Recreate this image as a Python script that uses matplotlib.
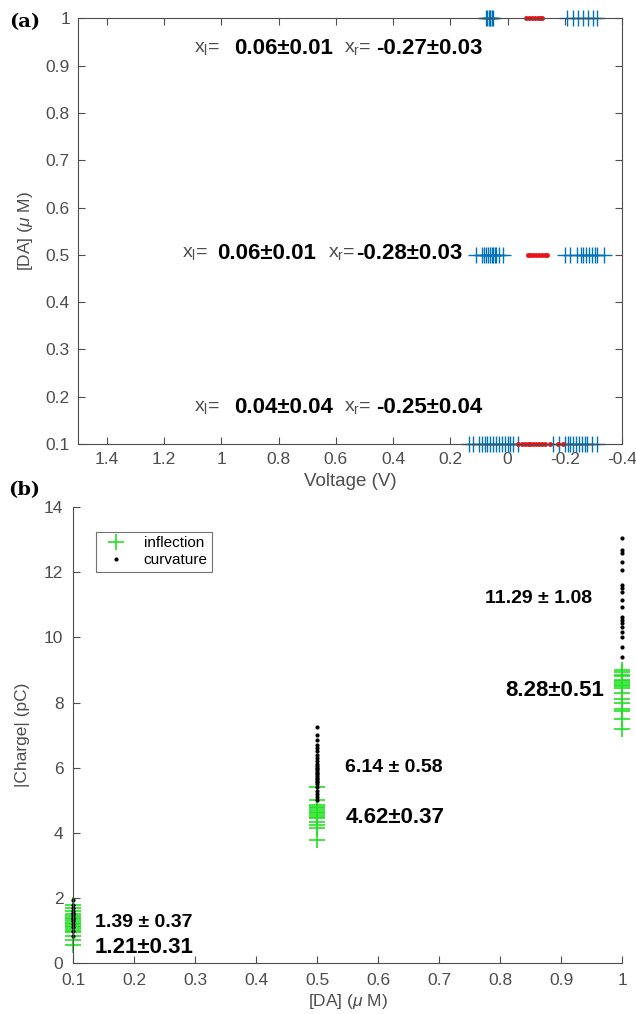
import numpy as np
import matplotlib
matplotlib.use('Agg')
import matplotlib.pyplot as plt
from matplotlib.ticker import FormatStrFormatter

plt.rcParams['font.family'] = ['Liberation Sans', 'DejaVu Sans']
plt.rcParams['mathtext.fontset'] = 'custom'
plt.rcParams['mathtext.rm'] = 'Liberation Sans'
plt.rcParams['mathtext.it'] = 'Liberation Sans:italic'
plt.rcParams['axes.unicode_minus'] = False

# ---- panel (a): peak voltages per concentration ----
da_levels = [1.0, 0.5, 0.1]
left_peaks = {
    1.0: [0.05, 0.055, 0.06, 0.06, 0.065, 0.07, 0.075],
    0.5: [0.111, 0.09, 0.083, 0.075, 0.068, 0.06, 0.055, 0.05, 0.045, 0.04, 0.031, 0.017],
    0.1: [0.136, 0.12, 0.1, 0.09, 0.08, 0.07, 0.06, 0.05, 0.04, 0.03, 0.02, 0.01,
          0.0, -0.01, -0.02, -0.038],
}
mid_points = {
    1.0: [-0.065, -0.075, -0.085, -0.095, -0.105, -0.115, -0.12],
    0.5: [-0.07, -0.08, -0.09, -0.1, -0.11, -0.12, -0.13, -0.139],
    0.1: [-0.038, -0.05, -0.06, -0.07, -0.08, -0.09, -0.1, -0.11, -0.12, -0.132,
          -0.15, -0.177, -0.195],
}
right_peaks = {
    1.0: [-0.209, -0.23, -0.247, -0.264, -0.282, -0.299, -0.313],
    0.5: [-0.2, -0.22, -0.243, -0.255, -0.265, -0.275, -0.285, -0.295, -0.305,
          -0.313, -0.337],
    0.1: [-0.16, -0.18, -0.2, -0.21, -0.22, -0.23, -0.24, -0.25, -0.26, -0.27,
          -0.278, -0.295, -0.313],
}
xl_text = {1.0: '0.06\u00b10.01', 0.5: '0.06\u00b10.01', 0.1: '0.04\u00b10.04'}
xr_text = {1.0: '-0.27\u00b10.03', 0.5: '-0.28\u00b10.03', 0.1: '-0.25\u00b10.04'}
text_y = {1.0: 0.937, 0.5: 0.503, 0.1: 0.178}
text_x = {1.0: (1.096, 0.957, 0.570, 0.459), 0.5: (1.137, 1.016, 0.626, 0.529),
          0.1: (1.096, 0.957, 0.570, 0.459)}
volt_ticks = [1.4, 1.2, 1.0, 0.8, 0.6, 0.4, 0.2, 0.0, -0.2, -0.4]
da_ticks = [0.1, 0.2, 0.3, 0.4, 0.5, 0.6, 0.7, 0.8, 0.9, 1.0]

# ---- panel (b): charge vs concentration ----
conc = [0.1, 0.5, 1.0]
inflection = {
    0.1: [0.55, 0.7, 0.85, 0.95, 1.0, 1.05, 1.1, 1.15, 1.2, 1.25, 1.3, 1.35, 1.4,
          1.45, 1.5, 1.6, 1.7, 1.8],
    0.5: [3.78, 4.15, 4.25, 4.35, 4.45, 4.5, 4.55, 4.6, 4.65, 4.7, 4.75, 4.8,
          4.85, 5.0, 5.4],
    1.0: [9.0, 8.95, 8.85, 8.8, 8.7, 8.65, 8.6, 8.55, 8.5, 8.45, 8.3, 8.1, 8.0,
          7.8, 7.75, 7.5, 7.2],
}
curvature = {
    0.1: [0.85, 1.0, 1.1, 1.2, 1.3, 1.35, 1.4, 1.45, 1.5, 1.55, 1.6, 1.7, 1.8, 1.95],
    0.5: [5.0, 5.1, 5.2, 5.3, 5.4, 5.5, 5.55, 5.6, 5.65, 5.7, 5.75, 5.8, 5.85, 5.9,
          5.95, 6.0, 6.05, 6.1, 6.2, 6.3, 6.4, 6.5, 6.6, 6.7, 6.85, 7.0, 7.25],
    1.0: [9.39, 9.7, 10.01, 10.16, 10.32, 10.44, 10.53, 10.62, 10.93, 11.15, 11.39,
          11.51, 11.61, 12.07, 12.31, 12.59, 12.68, 13.05],
}
curv_text = {0.1: ('1.39 \u00b1 0.37', 0.136, 1.26), 0.5: ('6.14 \u00b1 0.58', 0.546, 6.02),
             1.0: ('11.29 \u00b1 1.08', 0.775, 11.2)}
infl_text = {0.1: ('1.21\u00b10.31', 0.136, 0.5), 0.5: ('4.62\u00b10.37', 0.546, 4.48),
             1.0: ('8.28\u00b10.51', 0.808, 8.38)}
charge_ticks = [0, 2, 4, 6, 8, 10, 12, 14]

blue = '#0072BD'
red = '#E8141B'
gray = '#4d4d4d'

fig = plt.figure(figsize=(6.36, 10.14), dpi=100)
ax1 = fig.add_axes([0.123, 0.562, 0.855, 0.420])
ax2 = fig.add_axes([0.115, 0.050, 0.863, 0.450])

for lvl in da_levels:
    ax1.plot(left_peaks[lvl], [lvl] * len(left_peaks[lvl]), '+', color=blue,
             ms=11, mew=1.0, clip_on=False)
    ax1.plot(right_peaks[lvl], [lvl] * len(right_peaks[lvl]), '+', color=blue,
             ms=11, mew=1.0, clip_on=False)
    ax1.plot(mid_points[lvl], [lvl] * len(mid_points[lvl]), '.', color=red,
             ms=5, clip_on=False)
    x1, x2, x3, x4 = text_x[lvl]
    y = text_y[lvl]
    ax1.text(x1, y, 'x$_{\\mathrm{l}}$=', color=gray, fontsize=14, va='center')
    ax1.text(x2, y, xl_text[lvl], color='black', fontsize=16, fontweight='bold',
             va='center')
    ax1.text(x3, y, 'x$_{\\mathrm{r}}$=', color=gray, fontsize=14, va='center')
    ax1.text(x4, y, xr_text[lvl], color='black', fontsize=16, fontweight='bold',
             va='center')

ax1.set_xlim(1.5, -0.4)
ax1.set_ylim(0.1, 1.0)
ax1.set_xticks(volt_ticks)
ax1.set_yticks(da_ticks)
ax1.xaxis.set_major_formatter(FormatStrFormatter('%g'))
ax1.yaxis.set_major_formatter(FormatStrFormatter('%g'))
ax1.tick_params(direction='in', top=True, right=True, labelsize=12.5,
                colors=gray, length=5, pad=6)
for s in ax1.spines.values():
    s.set_color(gray)
ax1.set_xlabel('Voltage (V)', fontsize=13.5, color=gray, labelpad=4)
ax1.set_ylabel('[DA] ($\\mu$ M)', fontsize=12.5, color=gray, labelpad=8)

for c in conc:
    ax2.plot([c] * len(inflection[c]), inflection[c], '+', color='#22e022',
             ms=11, mew=1.2, clip_on=False,
             label='inflection' if c == conc[0] else None)
    ax2.plot([c] * len(curvature[c]), curvature[c], '.', color='black',
             ms=4, clip_on=False,
             label='curvature' if c == conc[0] else None)
    t, tx, ty = curv_text[c]
    ax2.text(tx, ty, t, fontsize=14, fontweight='bold', va='center')
    t, tx, ty = infl_text[c]
    ax2.text(tx, ty, t, fontsize=16, fontweight='bold', va='center')

ax2.set_xlim(0.1, 1.0)
ax2.set_ylim(0, 14)
ax2.set_xticks(da_ticks)
ax2.set_yticks(charge_ticks)
ax2.xaxis.set_major_formatter(FormatStrFormatter('%g'))
ax2.tick_params(direction='in', labelsize=12.5, colors=gray, length=5, pad=7)
ax2.spines['top'].set_visible(False)
ax2.spines['right'].set_visible(False)
for s in ax2.spines.values():
    s.set_color(gray)
ax2.set_xlabel('[DA] ($\\mu$ M)', fontsize=12.5, color=gray, labelpad=3)
ax2.set_ylabel('|Charge| (pC)', fontsize=12.5, color=gray, labelpad=10)
leg = ax2.legend(loc='upper left', bbox_to_anchor=(0.028, 0.963), fontsize=11,
                 fancybox=False, edgecolor=gray, handletextpad=0.8,
                 borderpad=0.3, labelspacing=0.2)
leg.get_frame().set_linewidth(0.8)

fig.text(0.015, 0.978, '(a)', family='DejaVu Serif', fontweight='bold',
         fontsize=14, va='center')
fig.text(0.013, 0.517, '(b)', family='DejaVu Serif', fontweight='bold',
         fontsize=14, va='center')

fig.savefig('out.png', dpi=100)
